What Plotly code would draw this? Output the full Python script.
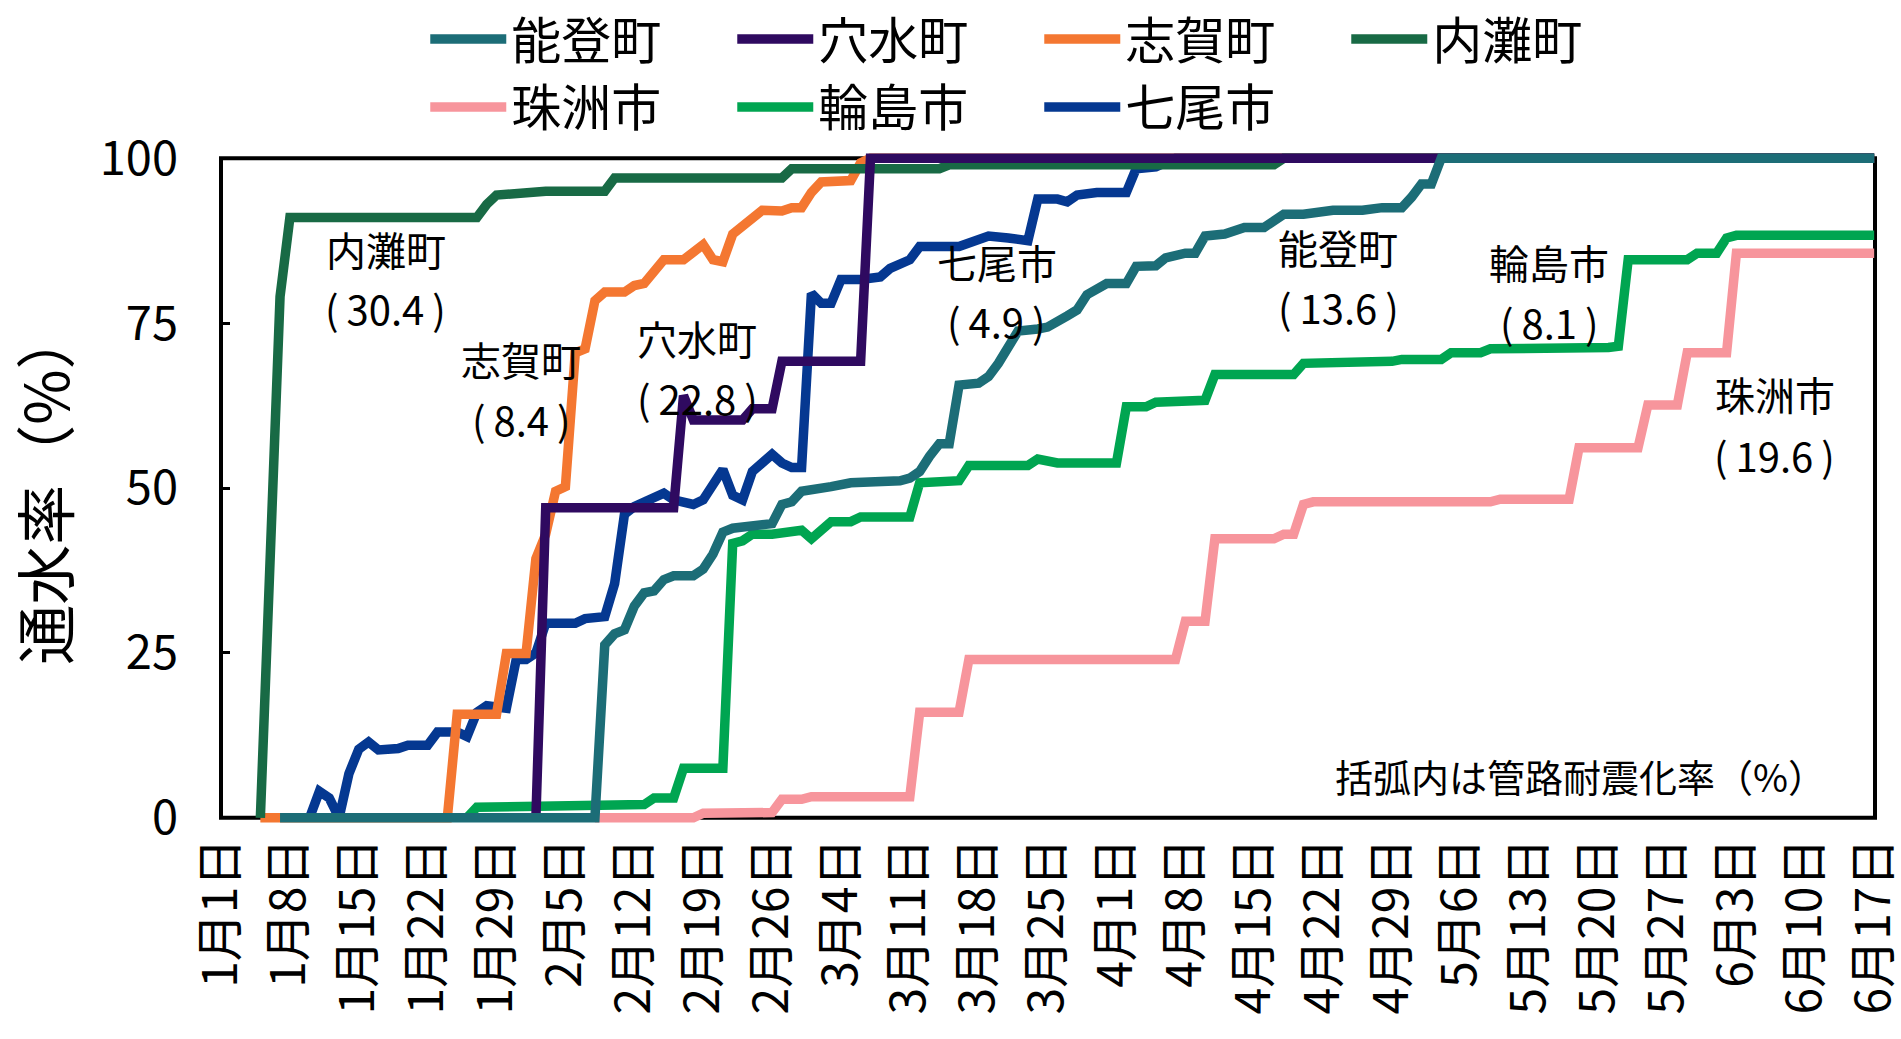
import plotly.graph_objects as go
import pandas as pd

FONT = "Noto Sans CJK JP"

# ---------------- data ----------------
noto_dates = ["2024-01-07", "2024-02-08", "2024-02-09", "2024-02-10", "2024-02-11", "2024-02-12", "2024-02-13",
              "2024-02-14", "2024-02-15", "2024-02-16", "2024-02-18", "2024-02-19", "2024-02-20", "2024-02-21",
              "2024-02-22", "2024-02-24", "2024-02-26", "2024-02-27", "2024-02-28", "2024-02-29", "2024-03-02",
              "2024-03-03", "2024-03-05", "2024-03-08", "2024-03-10", "2024-03-11", "2024-03-12", "2024-03-13",
              "2024-03-14", "2024-03-15", "2024-03-16", "2024-03-18", "2024-03-19", "2024-03-20", "2024-03-21",
              "2024-03-22", "2024-03-24", "2024-03-25", "2024-03-27", "2024-03-28", "2024-03-29", "2024-03-31",
              "2024-04-02", "2024-04-03", "2024-04-05", "2024-04-06", "2024-04-08", "2024-04-09", "2024-04-10",
              "2024-04-12", "2024-04-14", "2024-04-16", "2024-04-18", "2024-04-20", "2024-04-23", "2024-04-26",
              "2024-04-28", "2024-04-30", "2024-05-01", "2024-05-02", "2024-05-03", "2024-05-04", "2024-06-17"]
noto_values = [0, 0, 26.2, 27.9, 28.5, 32.1, 34.1,
               34.4, 36.1, 36.7, 36.7, 37.7, 40, 43.3,
               43.9, 44.4, 44.6, 47.5, 47.9, 49.5, 49.8,
               50.2, 50.8, 50.8, 51.1, 51.5, 52.5, 54.8,
               56.7, 56.7, 65.6, 65.9, 66.9, 68.9, 71.1,
               73.8, 74.1, 74.4, 76.1, 77, 79.3, 81,
               81, 83.6, 83.7, 84.9, 85.6, 85.6, 88.2,
               88.5, 89.5, 89.5, 91.5, 91.5, 92.1, 92.1,
               92.5, 92.5, 94.1, 96.1, 96.1, 100, 100]

anamizu_dates = ["2024-02-02", "2024-02-03", "2024-02-16", "2024-02-17", "2024-02-18", "2024-02-23", "2024-02-24",
                 "2024-02-26", "2024-02-27", "2024-03-06", "2024-03-07", "2024-06-17"]
anamizu_values = [0, 47, 47, 64, 60.3, 60.3, 62, 62, 69.2, 69.2, 100, 100]

shika_dates = ["2024-01-05", "2024-01-24", "2024-01-25", "2024-01-29", "2024-01-30", "2024-02-01", "2024-02-02",
               "2024-02-03", "2024-02-04", "2024-02-05", "2024-02-06", "2024-02-07", "2024-02-08", "2024-02-09",
               "2024-02-11", "2024-02-12", "2024-02-13", "2024-02-14", "2024-02-15", "2024-02-17", "2024-02-18",
               "2024-02-19", "2024-02-20", "2024-02-21", "2024-02-22", "2024-02-23", "2024-02-24", "2024-02-25",
               "2024-02-27", "2024-02-28", "2024-02-29", "2024-03-01", "2024-03-02", "2024-03-05", "2024-03-06",
               "2024-03-07", "2024-06-17"]
shika_values = [0, 0, 15.7, 15.7, 24.9, 24.9, 39.3,
                43, 49.5, 50.2, 70.5, 71.1, 78.4, 79.7,
                79.7, 80.7, 81, 82.6, 84.6, 84.6, 85.9,
                86.9, 84.6, 84.3, 88.5, 89.8, 91.1, 92.1,
                92, 92.5, 92.5, 94.8, 96.4, 96.6, 99.3,
                100, 100]

uchinada_dates = ["2024-01-05", "2024-01-07", "2024-01-08", "2024-01-27", "2024-01-28", "2024-01-29", "2024-02-03",
                  "2024-02-09", "2024-02-10", "2024-02-27", "2024-02-28", "2024-03-14", "2024-03-15", "2024-04-17",
                  "2024-04-18", "2024-06-17"]
uchinada_values = [0, 79, 91, 91, 93, 94.4, 95, 95, 97, 97, 98.4, 98.4, 99, 99, 100, 100]

suzu_dates = ["2024-02-08", "2024-02-18", "2024-02-19", "2024-02-26", "2024-02-27", "2024-02-29", "2024-03-01",
              "2024-03-11", "2024-03-12", "2024-03-16", "2024-03-17", "2024-04-07", "2024-04-08", "2024-04-10",
              "2024-04-11", "2024-04-17", "2024-04-18", "2024-04-19", "2024-04-20", "2024-04-21", "2024-05-09",
              "2024-05-10", "2024-05-17", "2024-05-18", "2024-05-24", "2024-05-25", "2024-05-28", "2024-05-29",
              "2024-06-02", "2024-06-03", "2024-06-17"]
suzu_values = [0, 0, 0.7, 0.8, 2.8, 2.8, 3.2,
               3.2, 16, 16, 24, 24, 29.8, 29.8,
               42.3, 42.3, 43, 43, 47.5, 47.9, 47.9,
               48.3, 48.3, 56.1, 56.1, 62.6, 62.6, 70.5,
               70.5, 85.6, 85.6]

wajima_dates = ["2024-01-26", "2024-01-27", "2024-02-13", "2024-02-14", "2024-02-16", "2024-02-17", "2024-02-21",
                "2024-02-22", "2024-02-23", "2024-02-24", "2024-02-26", "2024-02-28", "2024-02-29", "2024-03-01",
                "2024-03-02", "2024-03-03", "2024-03-05", "2024-03-06", "2024-03-11", "2024-03-12", "2024-03-16",
                "2024-03-17", "2024-03-23", "2024-03-24", "2024-03-26", "2024-04-01", "2024-04-02", "2024-04-04",
                "2024-04-05", "2024-04-10", "2024-04-11", "2024-04-19", "2024-04-20", "2024-04-25", "2024-04-26",
                "2024-04-29", "2024-04-30", "2024-05-04", "2024-05-05", "2024-05-08", "2024-05-09", "2024-05-17",
                "2024-05-21", "2024-05-22", "2024-05-23", "2024-05-29", "2024-05-30", "2024-06-01", "2024-06-02",
                "2024-06-03", "2024-06-17"]
wajima_values = [0, 1.6, 2, 3, 3, 7.5, 7.5,
                 41.6, 42, 43, 43, 43.6, 43.6, 42.3,
                 43.6, 44.9, 44.9, 45.6, 45.6, 50.8, 51.1,
                 53.4, 53.4, 54.4, 53.8, 53.8, 62.3, 62.3,
                 63, 63.3, 67.2, 67.2, 68.9, 68.9, 69.2,
                 69.2, 69.5, 69.5, 70.5, 70.5, 71.1, 71,
                 71.3, 71.5, 84.6, 84.6, 85.6, 85.6, 87.9,
                 88.3, 88.3]

nanao_dates = ["2024-01-10", "2024-01-11", "2024-01-12", "2024-01-13", "2024-01-14", "2024-01-15", "2024-01-16",
               "2024-01-17", "2024-01-19", "2024-01-20", "2024-01-22", "2024-01-23", "2024-01-25", "2024-01-26",
               "2024-01-27", "2024-01-28", "2024-01-30", "2024-01-31", "2024-02-01", "2024-02-02", "2024-02-03",
               "2024-02-06", "2024-02-07", "2024-02-09", "2024-02-10", "2024-02-11", "2024-02-12", "2024-02-13",
               "2024-02-15", "2024-02-16", "2024-02-18", "2024-02-19", "2024-02-21", "2024-02-22", "2024-02-23",
               "2024-02-24", "2024-02-26", "2024-02-27", "2024-02-28", "2024-02-29", "2024-03-01", "2024-03-02",
               "2024-03-03", "2024-03-04", "2024-03-06", "2024-03-08", "2024-03-09", "2024-03-11", "2024-03-12",
               "2024-03-16", "2024-03-18", "2024-03-19", "2024-03-21", "2024-03-23", "2024-03-24", "2024-03-26",
               "2024-03-27", "2024-03-28", "2024-03-30", "2024-04-02", "2024-04-03", "2024-04-05", "2024-04-07",
               "2024-06-17"]
nanao_values = [0, 4, 3, 0, 6.7, 10.4, 11.5,
                10.3, 10.5, 11, 11, 13, 13, 12.3,
                16, 17, 16.6, 24, 24, 25, 29.5,
                29.5, 30.2, 30.5, 35.5, 46, 47.2, 47.9,
                49.2, 48.2, 47.5, 48.2, 52.8, 48.9, 48.2,
                52.5, 55.1, 53.8, 53.1, 53.1, 79.5, 78,
                78, 81.6, 81.6, 82, 83.3, 84.6, 86.6,
                86.6, 87.9, 88.2, 87.9, 87.5, 93.8, 93.8,
                93.4, 94.4, 94.8, 94.8, 98.4, 98.7, 100,
                100]

series = {
    "能登町": (noto_dates, noto_values),
    "穴水町": (anamizu_dates, anamizu_values),
    "志賀町": (shika_dates, shika_values),
    "内灘町": (uchinada_dates, uchinada_values),
    "珠洲市": (suzu_dates, suzu_values),
    "輪島市": (wajima_dates, wajima_values),
    "七尾市": (nanao_dates, nanao_values),
}
legend_rows = [["能登町", "穴水町", "志賀町", "内灘町"], ["珠洲市", "輪島市", "七尾市"]]
draw_order = ["珠洲市", "輪島市", "七尾市", "志賀町", "内灘町", "穴水町", "能登町"]

label_text = {"内灘町": "(\u200930.4\u2009)", "志賀町": "(\u20098.4\u2009)", "穴水町": "(\u200922.8\u2009)",
              "七尾市": "(\u20094.9\u2009)", "能登町": "(\u200913.6\u2009)", "輪島市": "(\u20098.1\u2009)",
              "珠洲市": "(\u200919.6\u2009)"}
note_text = "括弧内は管路耐震化率（%）"
y_title = "通水率（%）"
y_ticks = [0, 25, 50, 75, 100]
x_ticks = pd.date_range("2024-01-01", "2024-06-17", freq="7D")

# ---------------- styles ----------------
colors = {
    "能登町": "#1C6D77",
    "穴水町": "#2F0A60",
    "志賀町": "#F47731",
    "内灘町": "#186A45",
    "珠洲市": "#F7959C",
    "輪島市": "#00A551",
    "七尾市": "#053891",
}
label_pos = {
    "内灘町": (0.0995, 86.3, 77.3),
    "志賀町": (0.1814, 69.5, 60.4),
    "穴水町": (0.2878, 72.7, 63.6),
    "七尾市": (0.4689, 84.3, 75.3),
    "能登町": (0.6756, 86.6, 77.4),
    "輪島市": (0.8031, 84.3, 75.1),
    "珠洲市": (0.9395, 64.2, 55.0),
}

fig = go.Figure()
for name in draw_order:
    xs, ys = series[name]
    row = 0 if name in legend_rows[0] else 1
    rank = legend_rows[row].index(name) + 1
    fig.add_trace(go.Scatter(
        x=xs, y=ys, mode="lines", name=name,
        line=dict(color=colors[name], width=9.5),
        legend="legend" if row == 0 else "legend2",
        legendrank=rank,
        hoverinfo="skip",
    ))

annotations = []
for name, (px, y1, y2) in label_pos.items():
    annotations.append(dict(xref="paper", yref="y", x=px, y=y1, text=name, showarrow=False,
                            font=dict(family=FONT, size=40, color="black"), xanchor="center", yanchor="middle"))
    annotations.append(dict(xref="paper", yref="y", x=px, y=y2, text=label_text[name], showarrow=False,
                            font=dict(family=FONT, size=40, color="black"), xanchor="center", yanchor="middle"))
annotations.append(dict(xref="paper", yref="y", x=0.9716, y=6.4, text=note_text, showarrow=False,
                        font=dict(family=FONT, size=38, color="black"), xanchor="right", yanchor="middle"))
annotations.append(dict(xref="paper", yref="paper", x=-0.108, y=0.501, text=y_title, showarrow=False,
                        textangle=-90, font=dict(family=FONT, size=60, color="black"),
                        xanchor="center", yanchor="middle"))

legend_common = dict(orientation="h", xanchor="left", yanchor="middle",
                     font=dict(family=FONT, size=50, color="black"),
                     entrywidth=216, itemwidth=76, bgcolor="rgba(0,0,0,0)", borderwidth=0,
                     traceorder="normal")

fig.update_layout(
    width=1901, height=1039,
    margin=dict(l=221, r=26, t=145, b=208, pad=0, autoexpand=False),
    paper_bgcolor="white", plot_bgcolor="white",
    font=dict(family=FONT, color="black"),
    showlegend=True,
    legend=dict(x=0.1235, y=1.1545, **legend_common),
    legend2=dict(x=0.1235, y=1.0554, **legend_common),
    xaxis=dict(type="date", range=["2024-01-01", "2024-06-17 02:00"],
               tickvals=x_ticks, tickformat="%-m月%-d日",
               tickangle=-90, tickfont=dict(family=FONT, size=48, color="black"),
               showgrid=False, zeroline=False, showline=False, ticks="",
               ticklabelstandoff=-3, ticklabeloverflow="allow", automargin=False),
    yaxis=dict(range=[-2, 102], tickvals=y_ticks,
               tickfont=dict(family=FONT, size=47, color="black"),
               ticks="inside", ticklen=9, tickwidth=3, tickcolor="black",
               showgrid=False, zeroline=False, showline=False,
               ticklabelstandoff=42, automargin=False),
    shapes=[dict(type="rect", xref="paper", x0=0, x1=1, yref="y", y0=0, y1=100,
                 line=dict(color="black", width=4), layer="below")],
    annotations=annotations,
)

# remove the browser's default 8 px body margin so the figure fills the window exactly
fig.write_html("out.html", config={"displayModeBar": False},
               post_script="document.body.style.margin='0px';")
